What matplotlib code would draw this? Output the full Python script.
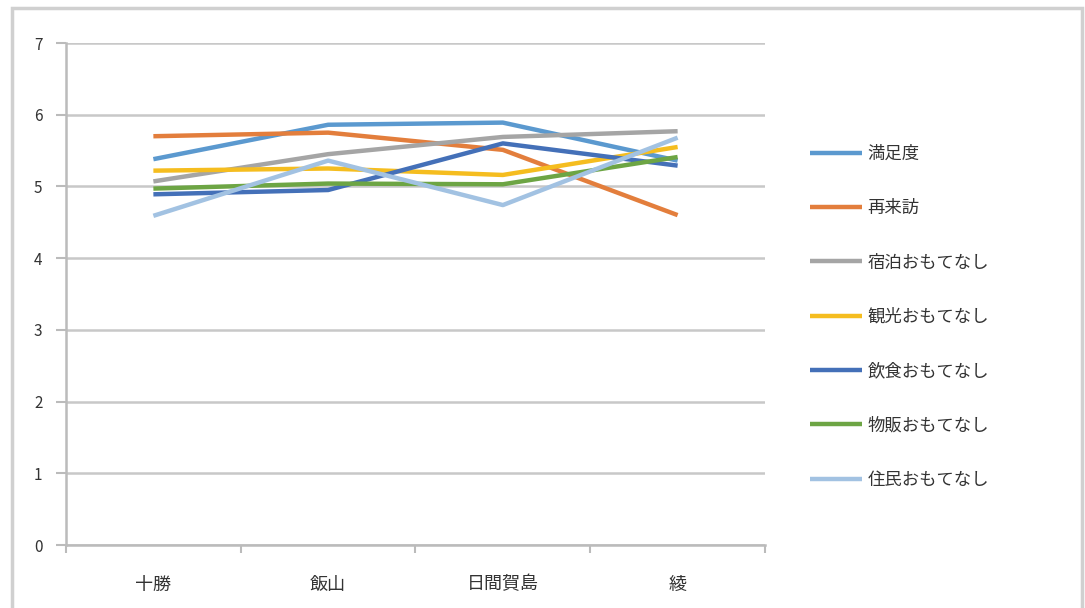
import matplotlib
matplotlib.use("Agg")
import matplotlib.pyplot as plt
from matplotlib.patches import Rectangle

plt.rcParams['font.family'] = ['Noto Sans CJK JP', 'DejaVu Sans']

categories = ['十勝', '飯山', '日間賀島', '綾']
series_names = ['満足度', '再来訪', '宿泊おもてなし', '観光おもてなし',
                '飲食おもてなし', '物販おもてなし', '住民おもてなし']
manzokudo = [5.38, 5.86, 5.89, 5.36]
sairaiho = [5.70, 5.75, 5.51, 4.60]
shukuhaku = [5.07, 5.45, 5.69, 5.77]
kanko = [5.22, 5.25, 5.16, 5.55]
inshoku = [4.89, 4.95, 5.60, 5.29]
buppan = [4.97, 5.04, 5.03, 5.41]
jumin = [4.59, 5.36, 4.74, 5.68]
series_values = [manzokudo, sairaiho, shukuhaku, kanko, inshoku, buppan, jumin]
colors = ['#5B99CF', '#E37E3C', '#A5A5A5', '#F5BD1F', '#4470B8', '#6DA544', '#A2C2E2']
yticks = [0, 1, 2, 3, 4, 5, 6, 7]

W, H = 1085, 608
fig = plt.figure(figsize=(W / 100, H / 100), dpi=100)
fig.patch.set_facecolor('white')
fig.patches.append(Rectangle((12 / W, -0.1), (1082 - 12) / W, 1.1 - 8 / H,
                             transform=fig.transFigure, fill=False,
                             edgecolor='#D0D0D0', linewidth=2.5, zorder=0))

ax = fig.add_axes([66 / W, (H - 545) / H, (765 - 66) / W, (545 - 43) / H])
x = list(range(len(categories)))
for name, vals, c in zip(series_names, series_values, colors):
    ax.plot(x, vals, color=c, linewidth=3.2, label=name, solid_capstyle='butt', zorder=3)

ax.set_xlim(-0.5, len(categories) - 0.5)
ax.set_ylim(0, 7)
ax.set_yticks(yticks)
ax.set_yticklabels([str(v) for v in yticks], fontsize=11, color='#333333')
ax.yaxis.grid(True, color='#C8C8C8', linewidth=1.8, zorder=0)
ax.set_axisbelow(True)

ax.set_xticks(x)
ax.set_xticklabels(categories, fontsize=13, color='#333333')
ax.set_xticks([i - 0.5 for i in range(len(categories) + 1)], minor=True)
ax.tick_params(axis='x', which='major', length=0, pad=22)
ax.tick_params(axis='x', which='minor', length=6, width=1.5, color='#BBBBBB')
ax.tick_params(axis='y', length=7, width=1.5, color='#BBBBBB', pad=10)

for s in ['top', 'right']:
    ax.spines[s].set_visible(False)
for s in ['left', 'bottom']:
    ax.spines[s].set_color('#BBBBBB')
    ax.spines[s].set_linewidth(1.8)

leg = ax.legend(loc='upper left', bbox_to_anchor=(810 / W, 1 - 145 / H),
                bbox_transform=fig.transFigure, frameon=False, fontsize=12.5,
                handlelength=3.0, handletextpad=0.3, labelspacing=2.09,
                borderpad=0, borderaxespad=0)
for t in leg.get_texts():
    t.set_color('#333333')
for l in leg.get_lines():
    l.set_linewidth(3.2)

fig.savefig('out.png', dpi=100)
